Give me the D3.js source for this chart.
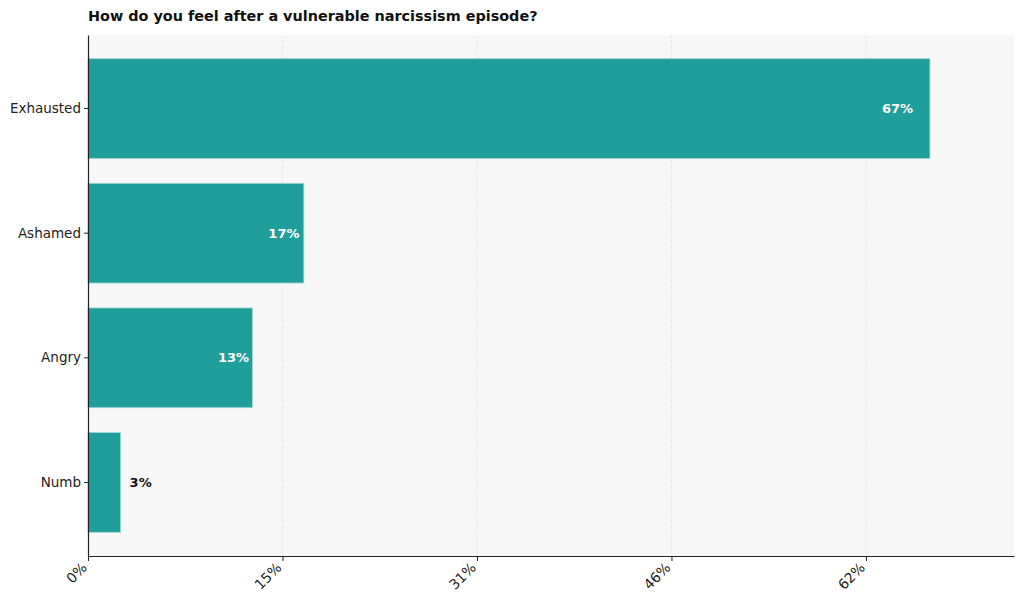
<!DOCTYPE html>
<html>
<head>
<meta charset="utf-8">
<script src="https://cdn.jsdelivr.net/npm/d3@7"></script>
<style>
  body { margin: 0; background: #fff; }
  text { font-family: "DejaVu Sans", sans-serif; }
</style>
</head>
<body>
<svg id="chart" width="1024" height="609"></svg>
<script>
var categories = ["Exhausted", "Ashamed", "Angry", "Numb"],
    values = [67.1, 17.2, 13.1, 2.6],
    valueLabels = ["67%", "17%", "13%", "3%"],
    tickValues = [0, 15.5, 31, 46.5, 62],
    tickLabels = ["0%", "15%", "31%", "46%", "62%"];

var width = 1024,
    height = 609,
    margin = {top: 35, right: 10, bottom: 53, left: 88},
    barColor = "#1f9e9c";

var svg = d3.select("#chart");

var x = d3.scaleLinear()
    .domain([0, 73.8])
    .range([margin.left, width - margin.right]);

var y = d3.scaleBand()
    .domain(categories)
    .range([margin.top, height - margin.bottom])
    .paddingInner(0.2)
    .paddingOuter(0.19);

// plot background
svg.append("rect")
    .attr("x", margin.left)
    .attr("y", margin.top)
    .attr("width", width - margin.right - margin.left)
    .attr("height", height - margin.bottom - margin.top)
    .attr("fill", "#f7f7f7");

// grid
svg.append("g")
  .selectAll("line")
    .data(tickValues.slice(1))
  .enter().append("line")
    .attr("x1", function(d) { return x(d); })
    .attr("x2", function(d) { return x(d); })
    .attr("y1", margin.top)
    .attr("y2", height - margin.bottom)
    .attr("stroke", "#e2e2e2")
    .attr("stroke-width", 0.8)
    .attr("stroke-dasharray", "3,2");

// bars
svg.append("g")
  .selectAll("rect")
    .data(values)
  .enter().append("rect")
    .attr("x", x(0))
    .attr("y", function(d, i) { return y(categories[i]); })
    .attr("width", function(d) { return x(d) - x(0); })
    .attr("height", y.bandwidth())
    .attr("fill", barColor)
    .attr("stroke", "#9fd6d4")
    .attr("stroke-width", 0.8);

// value labels
svg.append("g")
  .selectAll("text")
    .data(values)
  .enter().append("text")
    .attr("x", function(d) { return d > 8 ? x(d * 0.98) : x(d) + 9; })
    .attr("y", function(d, i) { return y(categories[i]) + y.bandwidth() / 2; })
    .attr("dy", "0.35em")
    .attr("text-anchor", function(d) { return d > 8 ? "end" : "start"; })
    .attr("font-size", 13)
    .attr("font-weight", "bold")
    .attr("fill", function(d) { return d > 8 ? "#ffffff" : "#111111"; })
    .text(function(d, i) { return valueLabels[i]; });

// axes
var xAxis = svg.append("g")
    .attr("transform", "translate(0," + (height - margin.bottom) + ")")
    .call(d3.axisBottom(x)
      .tickValues(tickValues)
      .tickFormat(function(d, i) { return tickLabels[i]; })
      .tickSize(5)
      .tickSizeOuter(0));

xAxis.selectAll("text")
    .attr("font-size", 14)
    .attr("fill", "#222")
    .attr("text-anchor", "end")
    .attr("x", 0)
    .attr("y", 0)
    .attr("dy", "0.35em")
    .attr("transform", "translate(-4,9) rotate(-45)");

var yAxis = svg.append("g")
    .attr("transform", "translate(" + margin.left + ",0)")
    .call(d3.axisLeft(y).tickSize(4).tickSizeOuter(0));

yAxis.selectAll("text")
    .attr("font-size", 13.5)
    .attr("fill", "#222");

svg.selectAll(".domain").attr("stroke", "#222").attr("stroke-width", 1.2);
svg.selectAll(".tick line").attr("stroke", "#222");

// title
svg.append("text")
    .attr("x", margin.left)
    .attr("y", 21)
    .attr("font-size", 14.4)
    .attr("font-weight", "bold")
    .attr("fill", "#111")
    .text("How do you feel after a vulnerable narcissism episode?");
</script>
</body>
</html>
